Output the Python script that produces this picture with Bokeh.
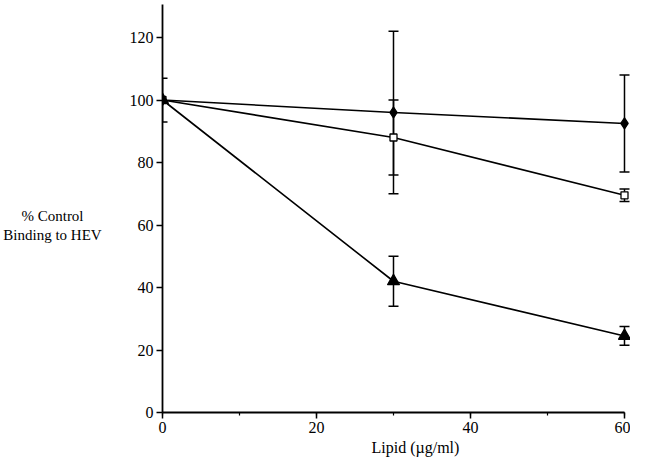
from bokeh.plotting import figure
from bokeh.layouts import row
from bokeh.models import Range1d, SingleIntervalTicker, Whisker, ColumnDataSource, TeeHead, Title, Label
from bokeh.embed import file_html
from bokeh.resources import INLINE

# Data
lipid = [0, 30, 60]
diamond_y = [100, 96, 92.5]
diamond_err = [7, 26, 15.5]
square_y = [100, 88, 69.5]
square_err = [0, 12, 2]
triangle_y = [100, 42, 24.5]
triangle_err = [0, 8, 3]

x_title = "Lipid (µg/ml)"
y_title_lines = ["% Control", "Binding to HEV"]

FONT = "'Liberation Serif'"
FS = "16px"
H = 459

# Left panel holding the horizontal y-axis title
lp = figure(width=120, height=H, output_backend="svg", toolbar_location=None,
            x_range=Range1d(0, 120), y_range=Range1d(0, H),
            x_axis_type=None, y_axis_type=None,
            min_border=0, outline_line_color=None)
lp.grid.visible = False
for txt, yy in zip(y_title_lines, [H - 238, H - 259]):
    lp.add_layout(Label(x=52, y=yy, text=txt, text_align="center", text_baseline="middle",
                        text_font=FONT, text_font_size="15px", text_color="black"))

p = figure(width=510, height=H, output_backend="svg", toolbar_location=None,
           x_range=Range1d(0, 60.78), y_range=Range1d(0, 130.56),
           min_border_left=42, min_border_right=0, min_border_top=4, min_border_bottom=47)
p.outline_line_color = None
p.grid.visible = False
p.background_fill_color = "white"
p.border_fill_color = "white"

for ax in (p.xaxis, p.yaxis):
    ax.axis_line_width = 1.8
    ax.major_tick_line_width = 1.5
    ax.minor_tick_line_width = 1.2
    ax.major_tick_in = 0
    ax.major_tick_out = 6
    ax.minor_tick_in = 0
    ax.minor_tick_out = 3
    ax.major_label_text_font = FONT
    ax.major_label_text_font_size = FS
    ax.major_label_text_color = "black"
    ax.axis_line_color = "black"
    ax.major_tick_line_color = "black"
    ax.minor_tick_line_color = "black"

p.xaxis.ticker = SingleIntervalTicker(interval=20, num_minor_ticks=2)
p.xaxis.bounds = (0, 60)
p.xaxis.major_label_standoff = 3
p.yaxis.ticker = SingleIntervalTicker(interval=20, num_minor_ticks=0)
p.yaxis.major_label_standoff = 3

p.add_layout(Title(text=x_title, align="left", offset=209, text_font=FONT,
                   text_font_size=FS, text_font_style="normal", text_color="black",
                   standoff=2), "below")

series = [
    (diamond_y, diamond_err, dict(marker="diamond", size=11, fill_color="black")),
    (square_y, square_err, dict(marker="square", size=7, fill_color="white")),
    (triangle_y, triangle_err, dict(marker="triangle", size=12, fill_color="black")),
]

for ys, errs, _ in series:
    p.line(lipid, ys, line_color="black", line_width=1.6)

for ys, errs, _ in series:
    xs = [x for x, e in zip(lipid, errs) if e > 0]
    up = [y + e for y, e in zip(ys, errs) if e > 0]
    lo = [y - e for y, e in zip(ys, errs) if e > 0]
    src = ColumnDataSource(dict(x=xs, upper=up, lower=lo))
    w = Whisker(base="x", upper="upper", lower="lower", source=src,
                line_color="black", line_width=1.5,
                upper_head=TeeHead(size=10, line_width=1.5, line_color="black"),
                lower_head=TeeHead(size=10, line_width=1.5, line_color="black"))
    p.add_layout(w)

for ys, errs, kw in series:
    p.scatter(lipid, ys, line_color="black", line_width=1.3, **kw)

layout = row(lp, p, spacing=0)
open("out.html", "w").write(file_html(layout, INLINE))
